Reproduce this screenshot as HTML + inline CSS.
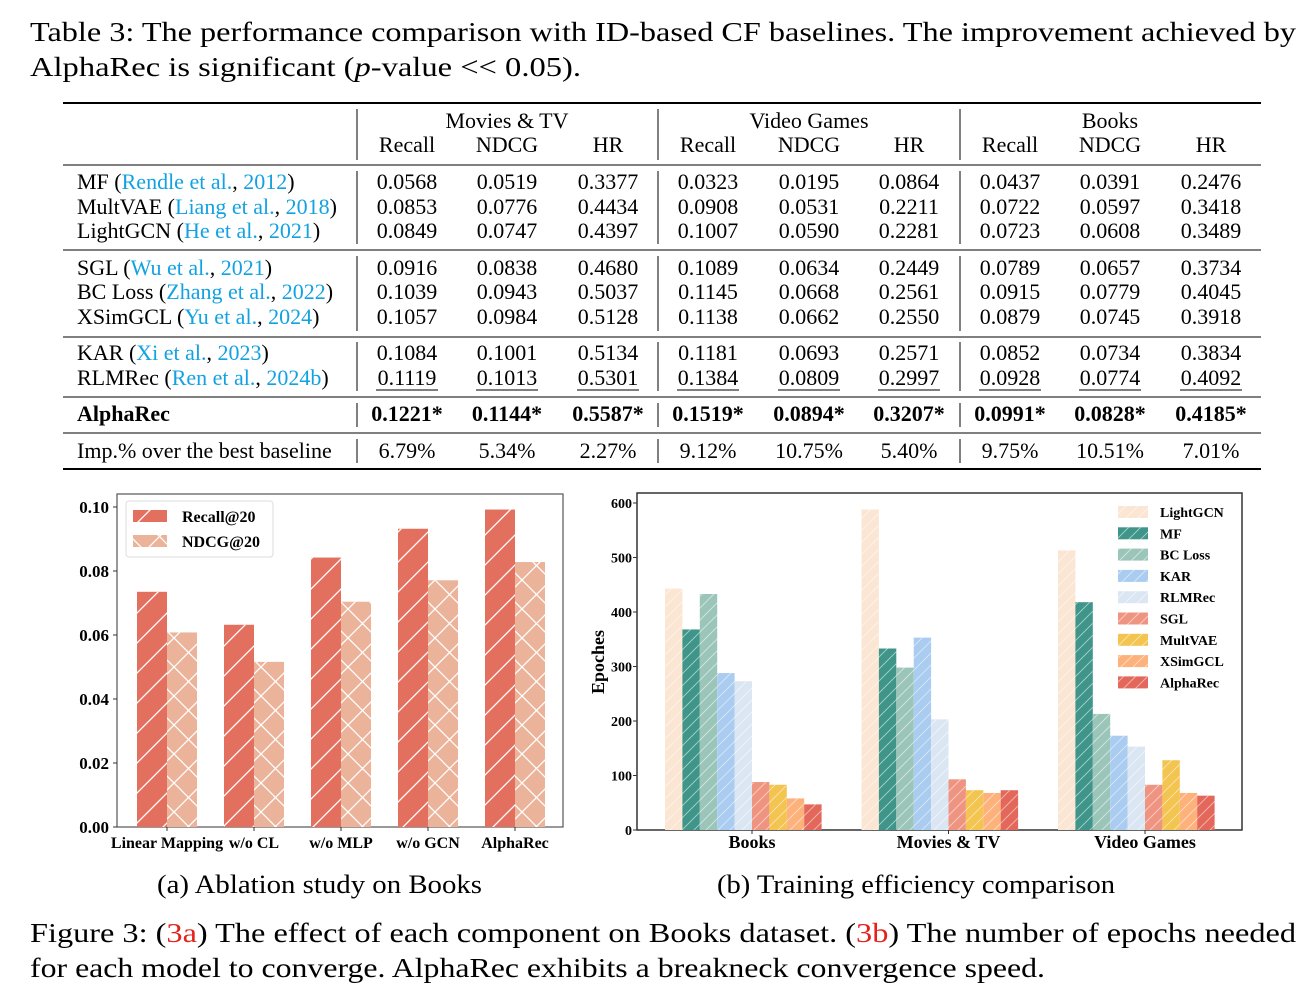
<!DOCTYPE html>
<html><head><meta charset="utf-8"><style>
body{margin:0;background:#fff;}
svg{display:block;font-family:"Liberation Serif",serif;}
</style></head><body>
<svg id="root" width="1304" height="996" viewBox="0 0 1304 996" xmlns="http://www.w3.org/2000/svg">
<defs>
<pattern id="hatchA" patternUnits="userSpaceOnUse" width="30" height="30"><path d="M-2,32 L32,-2 M-8,8 L8,-8 M22,38 L38,22" stroke="#fff" stroke-width="1.3"/></pattern>
<pattern id="hatchX" patternUnits="userSpaceOnUse" width="29" height="29"><path d="M0,0 L29,29 M29,0 L0,29" stroke="#fff" stroke-width="1.3"/></pattern>
<pattern id="hatchB" patternUnits="userSpaceOnUse" width="12" height="12"><path d="M-1,13 L13,-1 M-4,4 L4,-4 M8,16 L16,8" stroke="#fff" stroke-opacity="0.55" stroke-width="0.9"/></pattern>
</defs>
<g font-size="27">
<text x="30" y="41" textLength="1266" lengthAdjust="spacingAndGlyphs">Table 3: The performance comparison with ID-based CF baselines. The improvement achieved by</text>
<text x="30" y="76" textLength="551" lengthAdjust="spacingAndGlyphs">AlphaRec is significant (<tspan font-style="italic">p</tspan>-value &lt;&lt; 0.05).</text>
</g>
<g id="table" font-size="22"></g>
<g id="chartA"></g>
<g id="chartB"></g>
<text x="157" y="893" font-size="26" textLength="325" lengthAdjust="spacingAndGlyphs">(a) Ablation study on Books</text>
<text x="717" y="893" font-size="26" textLength="398" lengthAdjust="spacingAndGlyphs">(b) Training efficiency comparison</text>
<g font-size="27">
<text x="30" y="942" textLength="1266" lengthAdjust="spacingAndGlyphs">Figure 3: (<tspan fill="#e4221b">3a</tspan>) The effect of each component on Books dataset. (<tspan fill="#e4221b">3b</tspan>) The number of epochs needed</text>
<text x="30" y="977" textLength="1015" lengthAdjust="spacingAndGlyphs">for each model to converge. AlphaRec exhibits a breakneck convergence speed.</text>
</g>
</svg>
<script>
const NS="http://www.w3.org/2000/svg";
function mk(parent,tag,attrs,txt){const e=document.createElementNS(NS,tag);for(const k in attrs)e.setAttribute(k,attrs[k]);if(txt!==undefined)e.textContent=txt;parent.appendChild(e);return e;}

// ---------- TABLE DATA ----------
const datasets=["Movies & TV","Video Games","Books"];
const metrics=["Recall","NDCG","HR"];
const modelNames=["MF","MultVAE","LightGCN","SGL","BC Loss","XSimGCL","KAR","RLMRec"];
const modelCites=["Rendle et al.|2012","Liang et al.|2018","He et al.|2021","Wu et al.|2021","Zhang et al.|2022","Yu et al.|2024","Xi et al.|2023","Ren et al.|2024b"];
const tableRows=[
["0.0568","0.0519","0.3377","0.0323","0.0195","0.0864","0.0437","0.0391","0.2476"],
["0.0853","0.0776","0.4434","0.0908","0.0531","0.2211","0.0722","0.0597","0.3418"],
["0.0849","0.0747","0.4397","0.1007","0.0590","0.2281","0.0723","0.0608","0.3489"],
["0.0916","0.0838","0.4680","0.1089","0.0634","0.2449","0.0789","0.0657","0.3734"],
["0.1039","0.0943","0.5037","0.1145","0.0668","0.2561","0.0915","0.0779","0.4045"],
["0.1057","0.0984","0.5128","0.1138","0.0662","0.2550","0.0879","0.0745","0.3918"],
["0.1084","0.1001","0.5134","0.1181","0.0693","0.2571","0.0852","0.0734","0.3834"],
["0.1119","0.1013","0.5301","0.1384","0.0809","0.2997","0.0928","0.0774","0.4092"]];
const alphaRow=["0.1221*","0.1144*","0.5587*","0.1519*","0.0894*","0.3207*","0.0991*","0.0828*","0.4185*"];
const impRow=["6.79%","5.34%","2.27%","9.12%","10.75%","5.40%","9.75%","10.51%","7.01%"];

const T=document.getElementById('table');
const colX=[407,507,608,708,809,909,1010,1110,1211];
const vX=[357,658,960];
function hline(y,w){const l=mk(T,'line',{x1:63,x2:1261,y1:y,y2:y,stroke:'#000','stroke-width':w});

}
function vlines(y1,y2){vX.forEach(x=>{const l=mk(T,'line',{x1:x,x2:x,y1:y1,y2:y2,stroke:'#000','stroke-width':1});

});}
hline(103,2);hline(165,1);hline(250,1);hline(337,1);hline(397,1);hline(433,1);hline(469,2);
vlines(109,160);vlines(171,244);vlines(256,331);vlines(342,391);vlines(403,427);vlines(439,463);
datasets.forEach((d,i)=>{const t=mk(T,'text',{x:colX[i*3+1],y:128,'text-anchor':'middle'},d);


metrics.forEach((m,j)=>{const h=mk(T,'text',{x:colX[i*3+j],y:152,'text-anchor':'middle'},m);

});});
const rowY=[189,214,238,275,299,324,360,385];
tableRows.forEach((r,i)=>{
 const lab=mk(T,'text',{x:77,y:rowY[i]});
 
 
 const parts=modelCites[i].split('|');
 mk(lab,'tspan',{},modelNames[i]+' (');
 const c1=mk(lab,'tspan',{fill:'#12a2e2'},parts[0]);
 
 
 mk(lab,'tspan',{},', ');
 mk(lab,'tspan',{fill:'#12a2e2'},parts[1]);
 mk(lab,'tspan',{},')');
 r.forEach((v,j)=>{const t=mk(T,'text',{x:colX[j],y:rowY[i],'text-anchor':'middle'},v);
 
 
 if(i===7){const u=mk(T,'line',{x1:colX[j]-31,x2:colX[j]+31,y1:rowY[i]+5,y2:rowY[i]+5,stroke:'#333','stroke-width':1.2});
 
 }});
});
const al=mk(T,'text',{x:77,y:421,'font-weight':'bold'},'AlphaRec');


alphaRow.forEach((v,j)=>{const t=mk(T,'text',{x:colX[j],y:421,'text-anchor':'middle','font-weight':'bold'},v);

});
const il=mk(T,'text',{x:77,y:458},'Imp.% over the best baseline');


impRow.forEach((v,j)=>{const t=mk(T,'text',{x:colX[j],y:458,'text-anchor':'middle'},v);

});

// ---------- CHART A DATA ----------
const abCategories=["Linear Mapping","w/o CL","w/o MLP","w/o GCN","AlphaRec"];
const abRecall=[0.0735,0.0632,0.0842,0.0932,0.0992];
const abNdcg=[0.0608,0.0516,0.0704,0.0771,0.0828];
const abTicks=[0,0.02,0.04,0.06,0.08,0.10];
const A=document.getElementById('chartA');
const aL=117,aR=563,aT=494,aB=827,aMax=0.1;
function yA(v){return aB-v*(aB-507)/aMax;}
function xA(i){return 167+i*87;}
const ab=mk(A,'rect',{x:aL,y:aT,width:aR-aL,height:aB-aT,fill:'#fff',stroke:'#555','stroke-width':1.2});


abCategories.forEach((c,i)=>{
 [[abRecall,'#e36f5e','hatchA',-30],[abNdcg,'#eab39a','hatchX',0]].forEach(([arr,col,hp,off],k)=>{
  const x=xA(i)+off,y=yA(arr[i]),h=aB-y;
  const r=mk(A,'rect',{x:x,y:y,width:30,height:h,fill:col});
  
  
  const p=mk(A,'rect',{x:x,y:y,width:30,height:h,fill:'url(#'+hp+')'});
  
  
 });
 const t=mk(A,'text',{x:xA(i),y:848,'text-anchor':'middle','font-size':16,'font-weight':'bold'},c);
 
 
 const tk=mk(A,'line',{x1:xA(i),x2:xA(i),y1:aB,y2:aB+4,stroke:'#333'});
 
 
});
abTicks.forEach(v=>{const y=yA(v);
 const t=mk(A,'text',{x:aL-8,y:y+6,'text-anchor':'end','font-size':17,'font-weight':'bold'},v.toFixed(2));
 
 
 const tk=mk(A,'line',{x1:aL-4,x2:aL,y1:y,y2:y,stroke:'#333'});
 
 });
const lgA=mk(A,'rect',{x:126,y:501,width:147,height:56,fill:'#fff',stroke:'#ddd',rx:3});


[['Recall@20','#e36f5e','hatchA',510],['NDCG@20','#eab39a','hatchX',535]].forEach(([n,c,h,y])=>{
 const r=mk(A,'rect',{x:133,y:y,width:34,height:12,fill:c});
 
 
 mk(A,'rect',{x:133,y:y,width:34,height:12,fill:'url(#'+h+')'});
 const t=mk(A,'text',{x:182,y:y+12,'font-size':16,'font-weight':'bold'},n);
 
 });

// ---------- CHART B DATA ----------
const effGroups=["Books","Movies & TV","Video Games"];
const effModels=["LightGCN","MF","BC Loss","KAR","RLMRec","SGL","MultVAE","XSimGCL","AlphaRec"];
const effColors=["#fbe5d3","#3f9589","#9cc5b9","#a9ccf0","#dbe6f3","#f09482","#f3c44f","#fdb17b","#e3675a"];
const effLightGCN=[443,588,513];
const effMF=[368,333,418];
const effBC=[433,298,213];
const effKAR=[288,353,173];
const effRLMRec=[273,203,153];
const effSGL=[88,93,83];
const effMultVAE=[83,73,128];
const effXSimGCL=[58,68,68];
const effAlphaRec=[47,73,63];
const effTicks=[0,100,200,300,400,500,600];
const effSeries=[effLightGCN,effMF,effBC,effKAR,effRLMRec,effSGL,effMultVAE,effXSimGCL,effAlphaRec];
const B=document.getElementById('chartB');
const bL=637,bR=1242,bT=493,bB=830;
function yB(v){return bB-v*(bB-503)/600;}
function xB(g,k){return 665+g*196.5+k*17.4;}
const bb=mk(B,'rect',{x:bL,y:bT,width:bR-bL,height:bB-bT,fill:'#fff',stroke:'#333','stroke-width':1.5});


effGroups.forEach((g,gi)=>{
 effSeries.forEach((s,k)=>{const x=xB(gi,k),y=yB(s[gi]);
  const r=mk(B,'rect',{x:x,y:y,width:17.4,height:bB-y,fill:effColors[k]});
  
  
  const p=mk(B,'rect',{x:x,y:y,width:17.4,height:bB-y,fill:'url(#hatchB)'});
  
  });
 const cx=xB(gi,0)+87;
 const t=mk(B,'text',{x:cx,y:848,'text-anchor':'middle','font-size':18,'font-weight':'bold'},g);
 
 
 const tk=mk(B,'line',{x1:cx,x2:cx,y1:bB,y2:bB+4,stroke:'#333'});
 
 
});
effTicks.forEach(v=>{const y=yB(v);
 const t=mk(B,'text',{x:bL-5,y:y+5,'text-anchor':'end','font-size':14,'font-weight':'bold'},v);
 
 
 const tk=mk(B,'line',{x1:bL-4,x2:bL,y1:y,y2:y,stroke:'#333'});
 
 });
const yt=mk(B,'text',{x:604,y:662,'text-anchor':'middle','font-size':18,'font-weight':'bold',transform:'rotate(-90 604 662)'},'Epoches');


effModels.forEach((m,k)=>{const y=506+k*21.3;
 const r=mk(B,'rect',{x:1118,y:y,width:30,height:12,fill:effColors[k]});
 
 
 mk(B,'rect',{x:1118,y:y,width:30,height:12,fill:'url(#hatchB)'});
 const t=mk(B,'text',{x:1160,y:y+11,'font-size':14,'font-weight':'bold'},m);
 
 });
</script>
</body></html>
